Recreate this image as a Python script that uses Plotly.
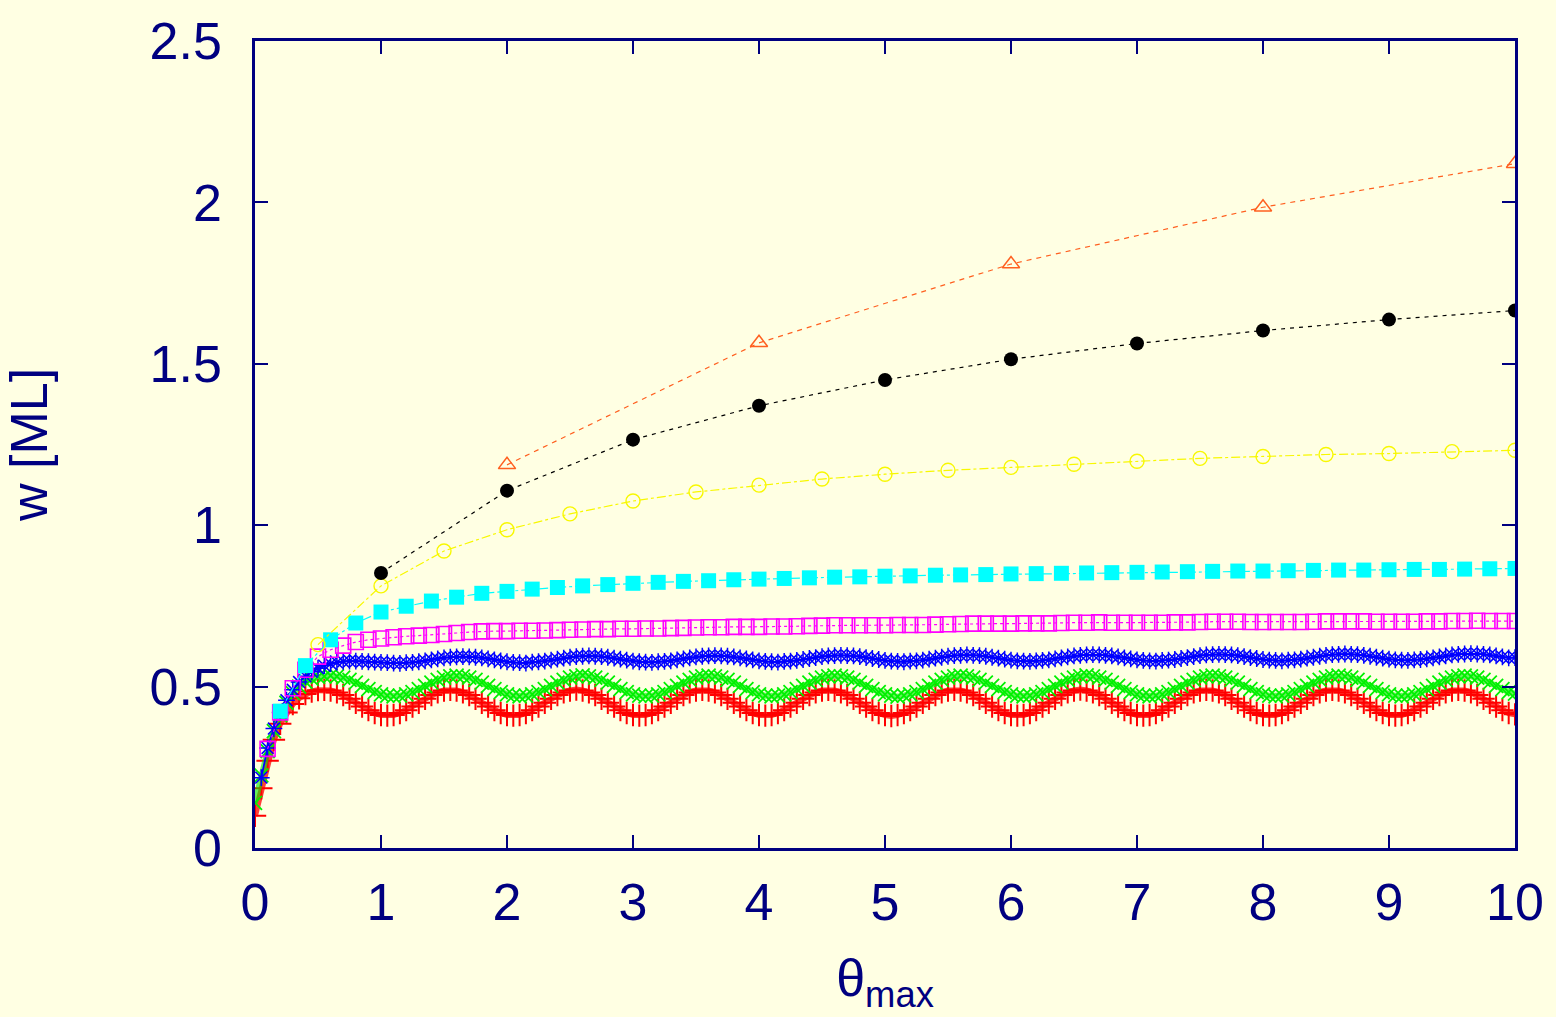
import plotly.graph_objects as go

# ---------------- data ----------------
theta_red = [round(0.05 * i, 2) for i in range(201)]          # 0 .. 10
w_red = [
    0.100, 0.185, 0.270, 0.335, 0.385, 0.420, 0.446, 0.464, 0.477, 0.485, 0.489,
    0.490, 0.488, 0.482, 0.474, 0.462, 0.450, 0.438, 0.427, 0.418, 0.412, 0.410,
    0.412, 0.418, 0.427, 0.438, 0.450, 0.462, 0.474, 0.482, 0.488, 0.490, 0.488, 0.482, 0.474, 0.462, 0.450, 0.438, 0.427, 0.418, 0.412, 0.410,
    0.412, 0.418, 0.427, 0.438, 0.450, 0.462, 0.474, 0.482, 0.488, 0.491, 0.488, 0.482, 0.474, 0.462, 0.450, 0.438, 0.427, 0.418, 0.412, 0.410,
    0.412, 0.418, 0.427, 0.438, 0.450, 0.462, 0.474, 0.482, 0.488, 0.490, 0.488, 0.482, 0.474, 0.462, 0.450, 0.438, 0.427, 0.418, 0.412, 0.410,
    0.412, 0.418, 0.427, 0.438, 0.450, 0.462, 0.474, 0.482, 0.488, 0.490, 0.488, 0.482, 0.474, 0.462, 0.450, 0.438, 0.427, 0.418, 0.412, 0.409,
    0.412, 0.418, 0.427, 0.438, 0.450, 0.462, 0.474, 0.482, 0.488, 0.490, 0.488, 0.482, 0.474, 0.462, 0.450, 0.438, 0.427, 0.418, 0.412, 0.410,
    0.412, 0.418, 0.427, 0.438, 0.450, 0.462, 0.474, 0.482, 0.488, 0.491, 0.488, 0.482, 0.474, 0.462, 0.450, 0.438, 0.427, 0.418, 0.412, 0.410,
    0.412, 0.418, 0.427, 0.438, 0.450, 0.462, 0.474, 0.482, 0.488, 0.490, 0.488, 0.482, 0.474, 0.462, 0.450, 0.438, 0.427, 0.418, 0.412, 0.410,
    0.412, 0.418, 0.427, 0.438, 0.450, 0.462, 0.474, 0.482, 0.488, 0.490, 0.488, 0.482, 0.474, 0.462, 0.450, 0.438, 0.427, 0.418, 0.412, 0.410,
    0.412, 0.418, 0.427, 0.438, 0.450, 0.462, 0.474, 0.482, 0.488, 0.490, 0.488, 0.482, 0.474, 0.462, 0.450, 0.438, 0.427, 0.418, 0.414,
]

theta_green = [round(0.05 * i, 2) for i in range(201)]        # 0 .. 10
w_green = [
    0.140, 0.225, 0.300, 0.362, 0.412, 0.450, 0.480, 0.500, 0.515, 0.524, 0.530, 0.532,
    0.534, 0.532, 0.528, 0.521, 0.512, 0.502, 0.492, 0.483, 0.476, 0.472, 0.470,
    0.472, 0.476, 0.483, 0.492, 0.502, 0.512, 0.521, 0.528, 0.532, 0.534, 0.532, 0.528, 0.521, 0.512, 0.502, 0.492, 0.483, 0.476, 0.472, 0.470,
    0.472, 0.476, 0.483, 0.492, 0.502, 0.512, 0.521, 0.528, 0.532, 0.535, 0.532, 0.528, 0.521, 0.512, 0.502, 0.492, 0.483, 0.476, 0.472, 0.470,
    0.472, 0.476, 0.483, 0.492, 0.502, 0.512, 0.521, 0.528, 0.532, 0.534, 0.532, 0.528, 0.521, 0.512, 0.502, 0.492, 0.483, 0.476, 0.472, 0.470,
    0.472, 0.476, 0.483, 0.492, 0.502, 0.512, 0.521, 0.528, 0.532, 0.534, 0.532, 0.528, 0.521, 0.512, 0.502, 0.492, 0.483, 0.476, 0.472, 0.469,
    0.472, 0.476, 0.483, 0.492, 0.502, 0.512, 0.521, 0.528, 0.532, 0.534, 0.532, 0.528, 0.521, 0.512, 0.502, 0.492, 0.483, 0.476, 0.472, 0.470,
    0.472, 0.476, 0.483, 0.492, 0.502, 0.512, 0.521, 0.528, 0.532, 0.535, 0.532, 0.528, 0.521, 0.512, 0.502, 0.492, 0.483, 0.476, 0.472, 0.470,
    0.472, 0.476, 0.483, 0.492, 0.502, 0.512, 0.521, 0.528, 0.532, 0.534, 0.532, 0.528, 0.521, 0.512, 0.502, 0.492, 0.483, 0.476, 0.472, 0.470,
    0.472, 0.476, 0.483, 0.492, 0.502, 0.512, 0.521, 0.528, 0.532, 0.534, 0.532, 0.528, 0.521, 0.512, 0.502, 0.492, 0.483, 0.476, 0.472, 0.470,
    0.472, 0.476, 0.483, 0.492, 0.502, 0.512, 0.521, 0.528, 0.532, 0.534, 0.532, 0.528, 0.521, 0.512, 0.502, 0.492, 0.483, 0.478,
]

theta_blue = [round(0.05 * i, 2) for i in range(1, 201)]      # 0.05 .. 10
w_blue = [
    0.218, 0.310, 0.370, 0.420, 0.458, 0.490, 0.514, 0.532, 0.546, 0.557, 0.565, 0.571,
    0.575, 0.578, 0.579, 0.579, 0.578, 0.577, 0.576, 0.575, 0.574, 0.573, 0.572,
    0.574, 0.575, 0.577, 0.580, 0.583, 0.586, 0.589, 0.591, 0.592, 0.593, 0.592, 0.591, 0.589, 0.586, 0.583, 0.580, 0.577, 0.575, 0.574, 0.573,
    0.576, 0.577, 0.579, 0.582, 0.585, 0.588, 0.591, 0.593, 0.594, 0.595, 0.594, 0.593, 0.591, 0.588, 0.585, 0.582, 0.579, 0.577, 0.576, 0.575,
    0.577, 0.578, 0.580, 0.583, 0.586, 0.589, 0.592, 0.594, 0.595, 0.596, 0.595, 0.594, 0.592, 0.589, 0.586, 0.583, 0.580, 0.578, 0.577, 0.576,
    0.578, 0.579, 0.581, 0.584, 0.587, 0.590, 0.593, 0.595, 0.596, 0.597, 0.596, 0.595, 0.593, 0.590, 0.587, 0.584, 0.581, 0.579, 0.578, 0.577,
    0.579, 0.580, 0.582, 0.585, 0.588, 0.591, 0.594, 0.596, 0.597, 0.598, 0.597, 0.596, 0.594, 0.591, 0.588, 0.585, 0.582, 0.580, 0.579, 0.578,
    0.580, 0.581, 0.583, 0.586, 0.589, 0.592, 0.595, 0.597, 0.598, 0.599, 0.598, 0.597, 0.595, 0.592, 0.589, 0.586, 0.583, 0.581, 0.580, 0.579,
    0.581, 0.582, 0.584, 0.587, 0.590, 0.593, 0.596, 0.598, 0.599, 0.600, 0.599, 0.598, 0.596, 0.593, 0.590, 0.587, 0.584, 0.582, 0.581, 0.580,
    0.582, 0.583, 0.585, 0.588, 0.591, 0.594, 0.597, 0.599, 0.600, 0.601, 0.600, 0.599, 0.597, 0.594, 0.591, 0.588, 0.585, 0.583, 0.582, 0.581,
    0.583, 0.584, 0.586, 0.589, 0.592, 0.595, 0.598, 0.600, 0.601, 0.602, 0.601, 0.600, 0.598, 0.595, 0.592, 0.589, 0.590,
]

theta_magenta = [round(0.1 * i, 1) for i in range(1, 101)]    # 0.1 .. 10
w_magenta = [
    0.307, 0.420, 0.495, 0.552, 0.593, 0.614, 0.627, 0.638, 0.645, 0.649,
    0.653, 0.656, 0.658, 0.660, 0.663, 0.666, 0.669, 0.671, 0.672, 0.672,
    0.673, 0.673, 0.674, 0.675, 0.676, 0.677, 0.678, 0.678, 0.679, 0.679,
    0.680, 0.680, 0.681, 0.682, 0.683, 0.684, 0.684, 0.685, 0.685, 0.685,
    0.686, 0.686, 0.687, 0.688, 0.689, 0.690, 0.690, 0.690, 0.690, 0.690,
    0.691, 0.691, 0.691, 0.692, 0.693, 0.694, 0.695, 0.695, 0.695, 0.695,
    0.696, 0.696, 0.696, 0.697, 0.698, 0.698, 0.699, 0.698, 0.698, 0.698,
    0.698, 0.698, 0.699, 0.699, 0.700, 0.701, 0.701, 0.701, 0.700, 0.700,
    0.700, 0.700, 0.700, 0.701, 0.702, 0.702, 0.702, 0.702, 0.701, 0.701,
    0.701, 0.701, 0.702, 0.702, 0.703, 0.703, 0.704, 0.703, 0.703, 0.703,
]

theta_cyan = [round(0.2 * i, 1) for i in range(1, 51)]        # 0.2 .. 10
w_cyan = [
    0.424, 0.565, 0.645, 0.697, 0.731, 0.749, 0.765, 0.777, 0.789, 0.795,
    0.802, 0.807, 0.812, 0.816, 0.820, 0.823, 0.826, 0.828, 0.831, 0.833,
    0.835, 0.837, 0.839, 0.840, 0.842, 0.843, 0.845, 0.846, 0.847, 0.849,
    0.850, 0.851, 0.852, 0.853, 0.854, 0.855, 0.856, 0.857, 0.858, 0.858,
    0.859, 0.860, 0.861, 0.861, 0.862, 0.863, 0.863, 0.864, 0.865, 0.866,
]

theta_yellow = [round(0.5 * i, 1) for i in range(1, 21)]      # 0.5 .. 10
w_yellow = [0.630, 0.812, 0.920, 0.986, 1.035, 1.075, 1.103, 1.124, 1.143, 1.158,
            1.170, 1.179, 1.189, 1.198, 1.207, 1.213, 1.219, 1.222, 1.228, 1.232]

theta_black = [1, 2, 3, 4, 5, 6, 7, 8, 9, 10]
w_black = [0.852, 1.107, 1.265, 1.370, 1.450, 1.514, 1.563, 1.603, 1.637, 1.665]

theta_orange = [2, 4, 6, 8, 10]
w_orange = [1.187, 1.565, 1.809, 1.985, 2.120]

x_ticks = [0, 1, 2, 3, 4, 5, 6, 7, 8, 9, 10]
y_ticks = [0, 0.5, 1, 1.5, 2, 2.5]
y_tick_labels = ["0", "0.5", "1", "1.5", "2", "2.5"]

# ---------------- style ----------------
NAVY = "#000080"
BG = "#FFFFE3"
FONT = "Liberation Sans, Arial, Helvetica, sans-serif"

fig = go.Figure()


def add(x, y, color, symbol, size, lw=1.5, dash="solid", line_w=1.0, line_color=None):
    fig.add_trace(go.Scatter(
        x=x, y=y,
        mode="lines+markers",
        line=dict(color=line_color or color, width=line_w, dash=dash),
        marker=dict(symbol=symbol, size=size, color=color,
                    line=dict(color=color, width=lw)),
        showlegend=False, hoverinfo="skip",
    ))


add(theta_red, w_red, "#FF0000", "cross-thin", 16, lw=2.0, line_w=6.0, line_color="rgba(255,0,0,0.75)")
add(theta_green, w_green, "#00F000", "x-thin", 14, lw=1.8, line_w=6.0, line_color="rgba(0,235,0,0.6)")
add(theta_blue, w_blue, "#0000FF", "asterisk", 14, lw=1.5, line_w=1.8)
add(theta_magenta, w_magenta, "#FF00FF", "square-open", 15, lw=1.6, dash="dot", line_w=1.2)
add(theta_cyan, w_cyan, "#00FFFF", "square", 15, lw=0, dash="dashdot", line_w=1.2)
add(theta_yellow, w_yellow, "#F8F800", "circle-open", 14, lw=1.4, dash="dashdot", line_w=1.2)
add(theta_black, w_black, "#000000", "circle", 14, lw=0, dash="4px,5px", line_w=1.2)
add(theta_orange, w_orange, "#FF6020", "triangle-up-open", 15, lw=1.5, dash="5px,5px", line_w=1.2)

axis_common = dict(
    showline=True, linecolor=NAVY, linewidth=2.5, mirror="ticks",
    ticks="inside", ticklen=13, tickwidth=2, tickcolor=NAVY,
    showgrid=False, zeroline=False, ticklabeloverflow="allow",
    tickfont=dict(family=FONT, size=52, color=NAVY),
)

fig.update_layout(
    width=1556, height=1017,
    margin=dict(l=255, r=39, t=30, b=169),
    paper_bgcolor=BG, plot_bgcolor=BG,
    xaxis=dict(range=[0, 10], tickvals=x_ticks, ticklabelstandoff=7,
               title=dict(text="θ<sub>max</sub>", font=dict(family=FONT, size=52, color=NAVY), standoff=30),
               **axis_common),
    yaxis=dict(range=[0, 2.5], tickvals=y_ticks, ticktext=y_tick_labels, ticklabelstandoff=20,
               title=dict(text="w [ML]", font=dict(family=FONT, size=52, color=NAVY), standoff=88),
               **axis_common),
)

fig.write_html("out.html")
